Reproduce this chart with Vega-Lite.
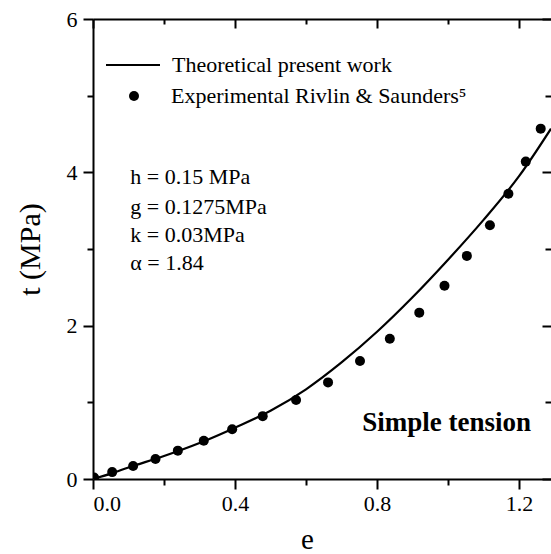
{
  "$schema": "https://vega.github.io/schema/vega-lite/v6.json",
  "width": 458,
  "height": 460,
  "autosize": {"type": "none"},
  "padding": {"left": 93, "top": 19, "right": 0, "bottom": 75},
  "background": "white",
  "config": {
    "view": {"stroke": null},
    "font": "Liberation Serif",
    "axis": {
      "domainColor": "black",
      "domainWidth": 2,
      "tickColor": "black",
      "tickWidth": 2,
      "labelColor": "black",
      "labelFont": "Liberation Serif",
      "labelFontSize": 22,
      "titleFont": "Liberation Serif",
      "titleColor": "black",
      "titleFontWeight": "normal",
      "grid": false
    },
    "legend": {
      "title": null,
      "labelFont": "Liberation Serif",
      "labelFontSize": 22,
      "labelColor": "black",
      "labelLimit": 400
    }
  },
  "datasets": {
    "exp": [
      {"e": 0.003, "t": 0.02, "series": "Experimental Rivlin & Saunders⁵"},
      {"e": 0.054, "t": 0.09, "series": "Experimental Rivlin & Saunders⁵"},
      {"e": 0.113, "t": 0.17, "series": "Experimental Rivlin & Saunders⁵"},
      {"e": 0.176, "t": 0.26, "series": "Experimental Rivlin & Saunders⁵"},
      {"e": 0.239, "t": 0.37, "series": "Experimental Rivlin & Saunders⁵"},
      {"e": 0.312, "t": 0.50, "series": "Experimental Rivlin & Saunders⁵"},
      {"e": 0.392, "t": 0.65, "series": "Experimental Rivlin & Saunders⁵"},
      {"e": 0.478, "t": 0.82, "series": "Experimental Rivlin & Saunders⁵"},
      {"e": 0.572, "t": 1.03, "series": "Experimental Rivlin & Saunders⁵"},
      {"e": 0.662, "t": 1.26, "series": "Experimental Rivlin & Saunders⁵"},
      {"e": 0.752, "t": 1.54, "series": "Experimental Rivlin & Saunders⁵"},
      {"e": 0.836, "t": 1.83, "series": "Experimental Rivlin & Saunders⁵"},
      {"e": 0.919, "t": 2.17, "series": "Experimental Rivlin & Saunders⁵"},
      {"e": 0.990, "t": 2.52, "series": "Experimental Rivlin & Saunders⁵"},
      {"e": 1.053, "t": 2.91, "series": "Experimental Rivlin & Saunders⁵"},
      {"e": 1.118, "t": 3.31, "series": "Experimental Rivlin & Saunders⁵"},
      {"e": 1.170, "t": 3.72, "series": "Experimental Rivlin & Saunders⁵"},
      {"e": 1.219, "t": 4.14, "series": "Experimental Rivlin & Saunders⁵"},
      {"e": 1.261, "t": 4.57, "series": "Experimental Rivlin & Saunders⁵"}
    ],
    "theory": [
      {"e": 0.0, "t": 0.0, "model": "Theoretical present work"},
      {"e": 0.05, "t": 0.07, "model": "Theoretical present work"},
      {"e": 0.1, "t": 0.15, "model": "Theoretical present work"},
      {"e": 0.2, "t": 0.30, "model": "Theoretical present work"},
      {"e": 0.3, "t": 0.47, "model": "Theoretical present work"},
      {"e": 0.4, "t": 0.67, "model": "Theoretical present work"},
      {"e": 0.5, "t": 0.89, "model": "Theoretical present work"},
      {"e": 0.6, "t": 1.17, "model": "Theoretical present work"},
      {"e": 0.7, "t": 1.52, "model": "Theoretical present work"},
      {"e": 0.8, "t": 1.92, "model": "Theoretical present work"},
      {"e": 0.9, "t": 2.37, "model": "Theoretical present work"},
      {"e": 1.0, "t": 2.86, "model": "Theoretical present work"},
      {"e": 1.1, "t": 3.38, "model": "Theoretical present work"},
      {"e": 1.2, "t": 3.95, "model": "Theoretical present work"},
      {"e": 1.29, "t": 4.57, "model": "Theoretical present work"}
    ],
    "params": [
      {"e": 0.105, "t": 3.94, "label": "h = 0.15 MPa"},
      {"e": 0.105, "t": 3.55, "label": "g = 0.1275MPa"},
      {"e": 0.105, "t": 3.18, "label": "k = 0.03MPa"},
      {"e": 0.105, "t": 2.82, "label": "α = 1.84"}
    ],
    "note": [
      {"e": 0.996, "t": 0.73, "label": "Simple tension"}
    ]
  },
  "resolve": {"axis": {"x": "independent", "y": "independent"}},
  "layer": [
    {
      "data": {"name": "exp"},
      "mark": {"type": "point", "filled": true, "color": "black", "opacity": 1, "size": 100, "clip": true},
      "encoding": {
        "x": {
          "field": "e", "type": "quantitative",
          "scale": {"domain": [0, 1.29], "nice": false, "zero": false},
          "axis": {
            "orient": "bottom",
            "values": [0, 0.2, 0.4, 0.6, 0.8, 1.0, 1.2],
            "labelExpr": "round(datum.value*10) % 4 == 0 ? format(datum.value, '.1f') : ''",
            "tickSize": {"condition": {"test": "round(datum.value*10) % 4 == 0", "value": 10}, "value": 6},
            "labelPadding": 4,
            "labelFont": "Liberation Serif",
            "labelFontSize": 22,
            "title": "e",
            "titleFont": "Liberation Serif",
            "titleFontSize": 29,
            "titleX": 214,
            "titleY": 75,
            "titleBaseline": "bottom"
          }
        },
        "y": {
          "field": "t", "type": "quantitative",
          "scale": {"domain": [0, 6], "nice": false, "zero": false},
          "axis": {
            "orient": "left",
            "values": [0, 1, 2, 3, 4, 5, 6],
            "labelExpr": "datum.value % 2 == 0 ? datum.label : ''",
            "tickSize": {"condition": {"test": "datum.value % 2 == 0", "value": 10}, "value": 6},
            "labelPadding": 6,
            "labelFont": "Liberation Serif",
            "labelFontSize": 22,
            "title": "t (MPa)",
            "titleFont": "Liberation Serif",
            "titleFontSize": 30,
            "titleX": -63,
            "titleY": 230,
            "titleBaseline": "middle"
          }
        },
        "shape": {
          "field": "series", "type": "nominal",
          "scale": {"range": ["circle"]},
          "legend": {
            "orient": "none",
            "legendX": 30,
            "legendY": 66,
            "labelOffset": 26,
            "symbolSize": 100,
            "symbolFillColor": "black",
            "symbolStrokeColor": "black",
            "symbolOpacity": 1
          }
        }
      }
    },
    {
      "data": {"name": "theory"},
      "mark": {"type": "line", "interpolate": "monotone", "strokeWidth": 2.2, "clip": true},
      "encoding": {
        "x": {
          "field": "e", "type": "quantitative",
          "axis": {
            "orient": "top",
            "values": [0, 0.2, 0.4, 0.6, 0.8, 1.0, 1.2],
            "labels": false,
            "title": null,
            "tickSize": {"condition": {"test": "round(datum.value*10) % 4 == 0", "value": -9}, "value": -5}
          }
        },
        "y": {
          "field": "t", "type": "quantitative",
          "axis": {
            "orient": "right",
            "values": [0, 1, 2, 3, 4, 5, 6],
            "labels": false,
            "title": null,
            "domain": false,
            "tickSize": {"condition": {"test": "datum.value % 2 == 0", "value": -9}, "value": -6}
          }
        },
        "color": {
          "field": "model", "type": "nominal",
          "scale": {"range": ["black"]},
          "legend": {
            "orient": "none",
            "legendX": 12,
            "legendY": 18,
            "labelOffset": 11,
            "symbolType": "stroke",
            "symbolSize": 2916,
            "symbolStrokeWidth": 2,
            "symbolStrokeColor": "black",
            "symbolOpacity": 1
          }
        }
      }
    },
    {
      "data": {"name": "params"},
      "mark": {"type": "text", "align": "left", "baseline": "middle", "font": "Liberation Serif", "fontSize": 22, "color": "black"},
      "encoding": {
        "x": {"field": "e", "type": "quantitative", "axis": null},
        "y": {"field": "t", "type": "quantitative", "axis": null},
        "text": {"field": "label"}
      }
    },
    {
      "data": {"name": "note"},
      "mark": {"type": "text", "align": "center", "baseline": "middle", "font": "Liberation Serif", "fontSize": 27, "fontWeight": "bold", "color": "black"},
      "encoding": {
        "x": {"field": "e", "type": "quantitative", "axis": null},
        "y": {"field": "t", "type": "quantitative", "axis": null},
        "text": {"field": "label"}
      }
    }
  ]
}
